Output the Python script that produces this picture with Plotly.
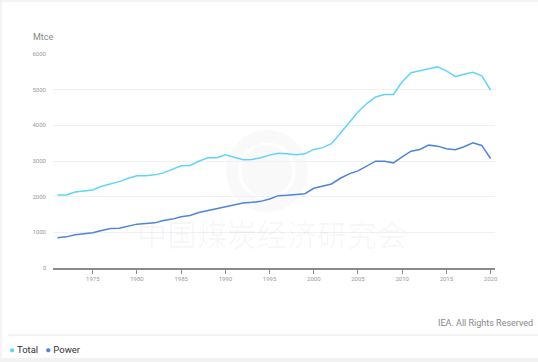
import plotly.graph_objects as go

years = list(range(1971, 2021))
total = [2048, 2050, 2132, 2150, 2188, 2290, 2357, 2422, 2516, 2583,
         2585, 2611, 2667, 2770, 2864, 2873, 2994, 3090, 3090, 3175,
         3110, 3033, 3043, 3090, 3165, 3220, 3200, 3175, 3200, 3324,
         3375, 3484, 3780, 4093, 4375, 4611, 4797, 4865, 4865, 5220,
         5474, 5530, 5596, 5643, 5525, 5370, 5435, 5485, 5390, 4990]
power = [845, 873, 930, 949, 986, 1051, 1107, 1116, 1163, 1230,
         1248, 1266, 1333, 1371, 1437, 1474, 1558, 1615, 1662, 1727,
         1765, 1822, 1840, 1868, 1934, 2028, 2037, 2065, 2084, 2234,
         2290, 2357, 2516, 2638, 2723, 2864, 2994, 2994, 2948, 3117,
         3276, 3324, 3445, 3417, 3342, 3314, 3399, 3511, 3436, 3070]

x_ticks = list(range(1975, 2021, 5))
y_ticks = [0, 1000, 2000, 3000, 4000, 5000, 6000]

c_total = "#62d3fc"
c_power = "#4f84da"

fig = go.Figure()
fig.add_trace(go.Scatter(x=years, y=total, mode="lines", name="Total",
                         line=dict(color=c_total, width=1.5), showlegend=False))
fig.add_trace(go.Scatter(x=years, y=power, mode="lines", name="Power",
                         line=dict(color=c_power, width=1.5), showlegend=False))

# plot area in pixels: x 53..495, y 54..268
L, R, T, B = 53, 495, 54, 268
W, H = R - L, B - T
def px(x):
    return (x - L) / W
def py(y):
    return (B - y) / H

shapes = [
    # watermark logo
    dict(type="circle", xref="paper", yref="paper", layer="below",
         x0=px(226), x1=px(308), y0=py(212), y1=py(130),
         fillcolor="rgba(0,0,0,0.025)", line=dict(width=0)),
    dict(type="circle", xref="paper", yref="paper", layer="below",
         x0=px(240), x1=px(294), y0=py(198), y1=py(144),
         fillcolor="rgba(0,0,0,0)", line=dict(color="white", width=3)),
    # separator line
    dict(type="line", xref="paper", yref="paper",
         x0=px(8), x1=px(538), y0=py(335), y1=py(335),
         line=dict(color="#e6e6e6", width=1)),
    # bottom grey band
    dict(type="rect", xref="paper", yref="paper",
         x0=px(0), x1=px(538), y0=py(358), y1=py(363),
         fillcolor="#f2f2f2", line=dict(width=0)),
    # card frame top/left
    dict(type="line", xref="paper", yref="paper",
         x0=px(0), x1=px(538), y0=py(1), y1=py(1),
         line=dict(color="#e8e8e8", width=1)),
    dict(type="line", xref="paper", yref="paper",
         x0=px(1), x1=px(1), y0=py(0), y1=py(358),
         line=dict(color="#e8e8e8", width=1)),
]

annotations = [
    dict(text="Mtce", xref="paper", yref="paper", x=px(31), y=py(37),
         xanchor="left", yanchor="middle", showarrow=False,
         font=dict(size=9, color="#888888", family="Roboto")),
    dict(text="中国煤炭经济研究会", xref="paper", yref="paper", x=px(272), y=py(233),
         xanchor="center", yanchor="middle", showarrow=False,
         font=dict(size=30, color="rgba(0,0,0,0.035)", family="Noto Sans CJK SC")),
    dict(text="IEA. All Rights Reserved", xref="paper", yref="paper", x=px(535), y=py(323),
         xanchor="right", yanchor="middle", showarrow=False,
         font=dict(size=9, color="#888888", family="Roboto")),
    dict(text=f"<span style='color:{c_total}'>●</span> Total   <span style='color:{c_power}'>●</span> Power",
         xref="paper", yref="paper", x=px(7), y=py(349),
         xanchor="left", yanchor="middle", showarrow=False,
         font=dict(size=9.5, color="#333333", family="Roboto")),
]

fig.update_layout(
    width=538, height=362,
    margin=dict(l=L, r=538 - R, t=T, b=362 - B),
    paper_bgcolor="white", plot_bgcolor="white",
    shapes=shapes, annotations=annotations,
    xaxis=dict(range=[1970.5, 2020.5], tickvals=x_ticks,
               ticktext=[str(v) for v in x_ticks],
               showgrid=False, zeroline=False,
               showline=True, linecolor="#8a8a8a", linewidth=1.5,
               ticks="outside", ticklen=4, tickcolor="#8a8a8a", tickwidth=1,
               tickfont=dict(size=6, color="#999999", family="Roboto")),
    yaxis=dict(range=[0, 6000], tickvals=y_ticks,
               ticktext=[str(v) for v in y_ticks],
               showgrid=True, gridcolor="#f1f1f1", gridwidth=1,
               zeroline=False, showline=False, ticks="",
               ticklabelstandoff=6,
               tickfont=dict(size=6, color="#999999", family="Roboto")),
    showlegend=False,
)

fig.write_html("out.html", config={"displayModeBar": False},
               post_script="document.body.style.margin='0';document.body.style.overflow='hidden';")
